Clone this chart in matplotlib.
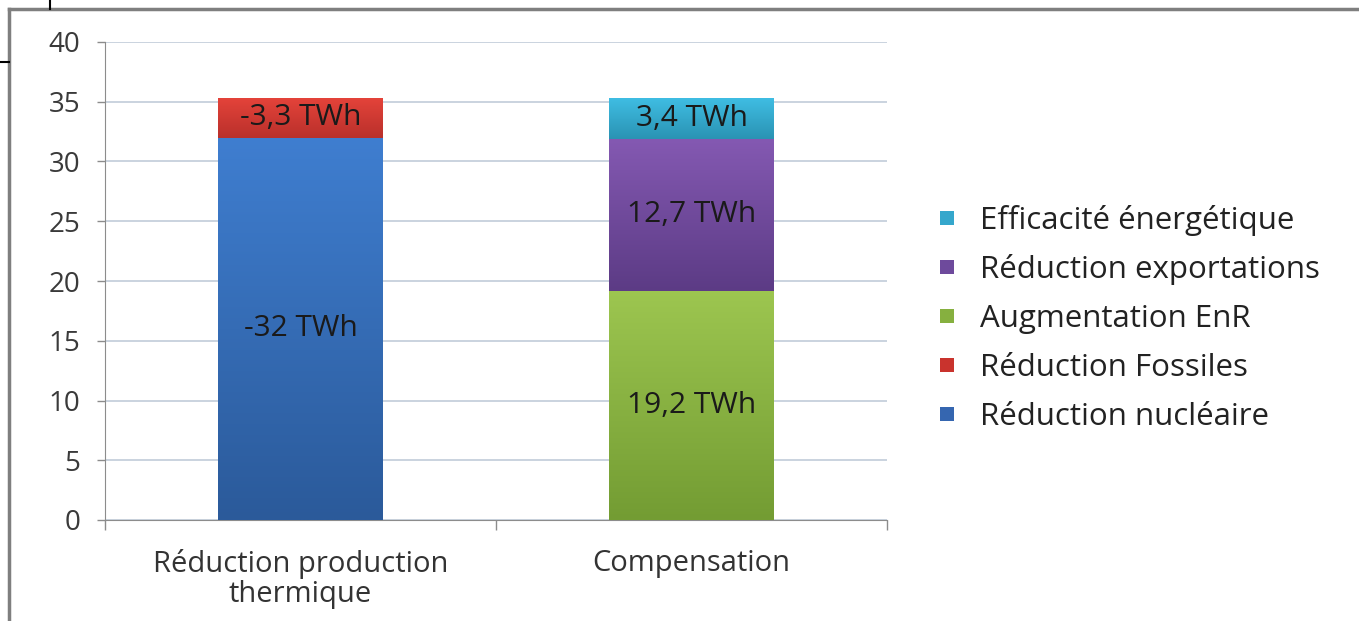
import numpy as np
import matplotlib
matplotlib.use("Agg")
import matplotlib.pyplot as plt
from matplotlib.colors import LinearSegmentedColormap
from matplotlib.lines import Line2D

# data
categories = ["Réduction production\nthermique", "Compensation"]
series = ["Réduction nucléaire", "Réduction Fossiles", "Augmentation EnR",
          "Réduction exportations", "Efficacité énergétique"]
values = {
    "Réduction nucléaire":    [32.0, 0.0],
    "Réduction Fossiles":     [3.3, 0.0],
    "Augmentation EnR":       [0.0, 19.2],
    "Réduction exportations": [0.0, 12.7],
    "Efficacité énergétique": [0.0, 3.4],
}
labels = {
    "Réduction nucléaire":    ["-32 TWh", ""],
    "Réduction Fossiles":     ["-3,3 TWh", ""],
    "Augmentation EnR":       ["", "19,2 TWh"],
    "Réduction exportations": ["", "12,7 TWh"],
    "Efficacité énergétique": ["", "3,4 TWh"],
}
yticks = [0, 5, 10, 15, 20, 25, 30, 35, 40]

# (top colour, bottom colour) for the vertical gradient of each segment
colors = {
    "Réduction nucléaire":    ("#3f7ed0", "#2b5a9a"),
    "Réduction Fossiles":     ("#e4433a", "#b9302b"),
    "Augmentation EnR":       ("#9dc650", "#739c33"),
    "Réduction exportations": ("#8459b2", "#5c3b85"),
    "Efficacité énergétique": ("#3fbde3", "#2a93b3"),
}
legend_colors = {
    "Réduction nucléaire":    "#3566b0",
    "Réduction Fossiles":     "#c9332d",
    "Augmentation EnR":       "#86b03f",
    "Réduction exportations": "#6e4a9c",
    "Efficacité énergétique": "#35a7cc",
}

plt.rcParams['font.family'] = ['Open Sans', 'DejaVu Sans']

fig = plt.figure(figsize=(13.59, 6.21), dpi=100)
ax = fig.add_axes([105 / 1359, 101 / 621, 782 / 1359, 478 / 621])

x = np.arange(len(categories))
bottom = np.zeros(len(categories))
for name in series:
    vals = np.array(values[name])
    bars = ax.bar(x, vals, 0.42, bottom=bottom, color=legend_colors[name],
                  zorder=2, linewidth=0)
    cmap = LinearSegmentedColormap.from_list(name, [colors[name][1], colors[name][0]])
    for rect, v, lab in zip(bars, vals, labels[name]):
        if v <= 0:
            continue
        x0, y0 = rect.get_x(), rect.get_y()
        w, h = rect.get_width(), rect.get_height()
        grad = np.linspace(0, 1, 256).reshape(-1, 1)
        im = ax.imshow(grad, cmap=cmap, origin='lower', aspect='auto',
                       extent=(x0, x0 + w, y0, y0 + h), zorder=3)
        im.set_clip_path(rect)
        ax.text(x0 + w / 2, y0 + h / 2, lab, ha='center', va='center',
                fontsize=21.5, color='#1a1a1a', zorder=4)
    bottom = bottom + vals

ax.set_xlim(-0.5, 1.5)
ax.set_ylim(0, 40)
ax.set_yticks(yticks)
ax.set_yticklabels([str(t) for t in yticks], fontsize=20, color='#3a3a3a')
ax.set_xticks(x)
ax.set_xticklabels(categories, fontsize=21, color='#333333', linespacing=1.05)
ax.tick_params(axis='x', length=0, pad=21)
ax.tick_params(axis='y', length=6, color='#8c8c8c', width=1, pad=12)
# category boundary ticks on the x axis
ax.set_xticks([-0.5, 0.5, 1.5], minor=True)
ax.tick_params(axis='x', which='minor', length=7, color='#8c8c8c', width=1)

ax.yaxis.grid(True, color='#c6d0dc', linewidth=1.3, zorder=0)
ax.set_axisbelow(True)
for s in ['top', 'right']:
    ax.spines[s].set_visible(False)
ax.spines['left'].set_color('#8c8c8c')
ax.spines['bottom'].set_color('#8c8c8c')

handles = [Line2D([0], [0], marker='s', linestyle='', markersize=10,
                  markerfacecolor=legend_colors[n], markeredgewidth=0)
           for n in series[::-1]]
fig.legend(handles, series[::-1], loc='center left',
           bbox_to_anchor=(903 / 1359, 1 - 318 / 621), frameon=False,
           fontsize=22.5, labelspacing=0.6, handletextpad=0.55,
           handlelength=1.0, labelcolor='#222222')

# outer frame of the screenshot
fig.add_artist(Line2D([9 / 1359, 1], [1 - 9 / 621, 1 - 9 / 621],
                      transform=fig.transFigure, color='#7f7f7f', linewidth=2.5))
fig.add_artist(Line2D([9 / 1359, 9 / 1359], [0, 1 - 9 / 621],
                      transform=fig.transFigure, color='#7f7f7f', linewidth=2.5))
fig.add_artist(Line2D([50 / 1359, 50 / 1359], [1 - 9 / 621, 1],
                      transform=fig.transFigure, color='black', linewidth=1.5))
fig.add_artist(Line2D([0, 9 / 1359], [1 - 62 / 621, 1 - 62 / 621],
                      transform=fig.transFigure, color='black', linewidth=1.5))

fig.savefig("out.png", dpi=100)
